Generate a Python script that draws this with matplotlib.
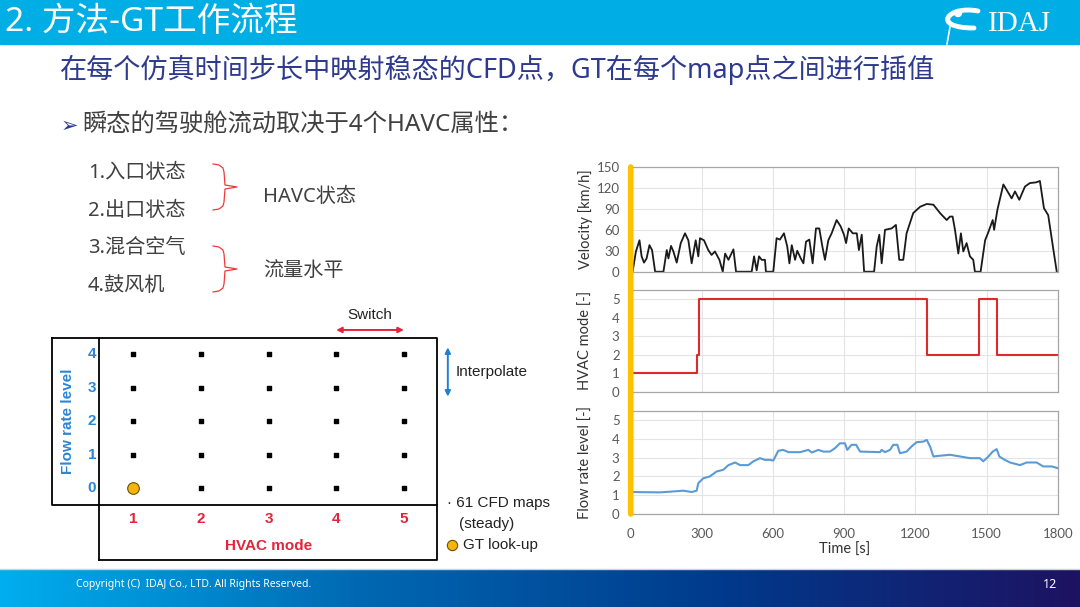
import numpy as np
import matplotlib.pyplot as plt
from matplotlib.patches import Rectangle, ConnectionPatch, Circle, PathPatch
from matplotlib.path import Path
from matplotlib.colors import LinearSegmentedColormap

plt.rcParams['font.family'] = ['Noto Sans', 'Noto Sans CJK SC', 'DejaVu Sans']

W, H = 1080, 607

# ---- data ----
vel_t = [0, 8, 22, 37, 46, 56, 67, 79, 90, 103, 138, 152, 159, 170, 180, 194, 211, 229, 243,
         257, 274, 285, 292, 309, 327, 341, 355, 374, 388, 398, 412, 433, 444, 510, 520, 531,
         541, 552, 566, 570, 601, 615, 629, 646, 660, 669, 679, 693, 702, 717, 728, 739, 753,
         767, 781, 795, 808, 819, 833, 847, 868, 885, 899, 908, 919, 936, 953, 962, 974, 984,
         1026, 1037, 1048, 1058, 1072, 1100, 1118, 1132, 1149, 1163, 1191, 1220, 1248, 1276,
         1304, 1332, 1346, 1357, 1367, 1381, 1392, 1402, 1416, 1430, 1444, 1451, 1475, 1494,
         1508, 1526, 1532, 1546, 1571, 1592, 1606, 1620, 1638, 1662, 1683, 1709, 1725, 1742,
         1760, 1782, 1796]
vel_v = [0, 0, 29, 45, 22, 13, 19, 38, 31, 0, 0, 31, 19, 37, 29, 13, 41, 55, 45,
         12, 45, 22, 48, 45, 31, 24, 29, 17, 0, 26, 17, 32, 0, 0, 22, 2,
         22, 17, 17, 0, 0, 48, 46, 55, 36, 12, 38, 17, 30, 19, 12, 43, 46,
         12, 62, 62, 36, 17, 45, 55, 74, 65, 53, 41, 62, 55, 55, 31, 53, 0,
         0, 36, 53, 12, 60, 62, 67, 17, 17, 55, 84, 93, 97, 96,
         84, 74, 79, 79, 60, 26, 55, 29, 41, 22, 17, 0, 0, 45,
         57, 74, 60, 89, 125, 113, 105, 115, 103, 122, 127, 128, 130, 91,
         81, 31, 0]

mode_t = [0, 281, 289, 1248, 1470, 1543, 1800]
mode_v = [1, 2, 5, 2, 5, 2, 2]

flow_t = [0, 124, 222, 257, 278, 285, 306, 334, 362, 390, 412, 440, 461, 496, 517, 545, 566,
          587, 601, 622, 643, 665, 714, 749, 763, 791, 812, 840, 861, 882, 903, 913, 931, 950,
          967, 1051, 1058, 1072, 1093, 1107, 1124, 1135, 1163, 1184, 1205, 1234, 1248, 1262,
          1276, 1297, 1346, 1388, 1430, 1472, 1486, 1508, 1526, 1543, 1554, 1571, 1599, 1641,
          1669, 1711, 1739, 1775, 1800]
flow_v = [1.17, 1.15, 1.24, 1.17, 1.24, 1.64, 1.9, 2.0, 2.26, 2.35, 2.6, 2.74, 2.6, 2.6, 2.8,
          2.97, 2.88, 2.88, 2.84, 3.36, 3.41, 3.29, 3.29, 3.41, 3.27, 3.41, 3.32, 3.32, 3.5,
          3.76, 3.76, 3.41, 3.68, 3.68, 3.32, 3.29, 3.41, 3.29, 3.41, 3.68, 3.68, 3.23, 3.32,
          3.59, 3.82, 3.85, 3.94, 3.59, 3.06, 3.09, 3.15, 3.06, 2.97, 2.97, 2.8, 3.06, 3.32,
          3.45, 3.06, 2.92, 2.74, 2.6, 2.74, 2.74, 2.53, 2.53, 2.44]

hvac_modes = [1, 2, 3, 4, 5]
flow_levels = [0, 1, 2, 3, 4]
lookup = (1, 0)

items = ['1.入口状态', '2.出口状态', '3.混合空气', '4.鼓风机']
groups = ['HAVC状态', '流量水平']

fig = plt.figure(figsize=(10.8, 6.07), dpi=100)
bg = fig.add_axes([0, 0, 1, 1])
bg.axis('off')


def px_axes(x0, y0, x1, y1):
    return fig.add_axes([x0 / W, 1 - y1 / H, (x1 - x0) / W, (y1 - y0) / H])


# footer gradient
cmap = LinearSegmentedColormap.from_list('foot', ['#00AEEF', '#0068B2', '#003A8C', '#1E1262'])
bg.imshow(np.linspace(0, 1, 256)[None, :], extent=[0, W, 607, 569], cmap=cmap, aspect='auto')
bg.set_xlim(0, W)
bg.set_ylim(H, 0)
bg.plot([0, W], [569, 569], color='#C9D3DC', lw=1)
bg.text(76, 585, 'Copyright (C)  IDAJ Co., LTD. All Rights Reserved.', color='white',
        fontsize=7.5, va='center')
bg.text(1050, 585, '12', color='white', fontsize=9, va='center', ha='center')

# header
bg.add_patch(Rectangle((0, 0), W, 44, color='#00AEE6'))
bg.text(5, 22, '2. 方法-GT工作流程', color='white', fontsize=24.2, va='center')
bg.text(1019, 24, 'IDAJ', color='white', fontsize=21, va='center', ha='center',
        family='Liberation Serif')
swoosh = Path([(978, 11), (948, 5), (930, 28), (974, 28)],
              [Path.MOVETO, Path.CURVE4, Path.CURVE4, Path.CURVE4])
bg.add_patch(PathPatch(swoosh, fc='none', ec='white', lw=3.5, capstyle='round'))
bg.add_patch(Circle((958, 13), 3.5, color='white'))
bg.plot([950, 947], [27, 44], color='white', lw=1.2)

bg.text(60, 70, '在每个仿真时间步长中映射稳态的CFD点，GT在每个map点之间进行插值',
        color='#2E3A8F', fontsize=19.5, va='center')
bg.text(61, 126, '➢', color='#2E3A8F', fontsize=15, va='center', family=['DejaVu Sans'])
bg.text(82, 126, '瞬态的驾驶舱流动取决于4个HAVC属性：', color='#404040', fontsize=17.5, va='center')

for i, s in enumerate(items):
    bg.text(88, 173 + i * 37.7, s, color='#404040', fontsize=14.5, va='center')
for i, s in enumerate(groups):
    bg.text(263, 197 + i * 74, s, color='#404040', fontsize=14.5, va='center')


def brace(y0, y1):
    ym = (y0 + y1) / 2
    xs = [213, 219, 223, 224, 225, 237, 225, 224, 223, 219, 213]
    ys = [y0, y0 + 1, y0 + 4, y0 + 8, ym - 2, ym, ym + 2, y1 - 8, y1 - 4, y1 - 1, y1]
    bg.plot(xs, ys, color='#F03A3A', lw=0.9)


brace(164, 210)
brace(246, 292)

# ---- CFD map diagram ----
dg = px_axes(52, 338, 437, 560)
dg.set_xlim(-0.2, 5.49)
dg.set_ylim(-2.15, 4.48)
dg.axis('off')
kw = dict(color='black', lw=1.3, clip_on=False)
dg.plot([-0.2, 5.49, 5.49, -0.2, -0.2], [4.48, 4.48, -0.5, -0.5, 4.48], **kw)
dg.plot([0.5, 0.5], [4.48, -2.15], **kw)
dg.plot([0.5, 5.49, 5.49], [-2.15, -2.15, -0.5], **kw)

mx, my = np.meshgrid(hvac_modes, flow_levels)
mask = ~((mx == lookup[0]) & (my == lookup[1]))
dg.scatter(mx[mask], my[mask], marker='s', s=5, color='black', zorder=3)
dg.scatter([lookup[0]], [lookup[1]], s=70, color='#F5B50E', edgecolor='#6B5200', lw=0.8, zorder=4)

af = ['Liberation Sans', 'DejaVu Sans']
for m in hvac_modes:
    dg.text(m, -0.93, str(m), color='#E3243B', fontsize=11, fontweight='bold',
            ha='center', va='center', family=af)
for lv in flow_levels:
    dg.text(0.39, lv, str(lv), color='#2A86D8', fontsize=11, fontweight='bold',
            ha='center', va='center', family=af)
dg.text(3, -1.74, 'HVAC mode', color='#E3243B', fontsize=11, fontweight='bold',
        ha='center', va='center', family=af)
dg.text(0.04, 2.0, 'Flow rate level', color='#2A86D8', fontsize=11, fontweight='bold',
        ha='center', va='center', rotation=90, family=af)

dg.annotate('', xy=(5, 4.72), xytext=(4, 4.72), annotation_clip=False,
            arrowprops=dict(arrowstyle='<|-|>', color='#E3243B', lw=1.4,
                            shrinkA=0, shrinkB=0, mutation_scale=8))
dg.text(4.5, 5.17, 'Switch', fontsize=11, ha='center', va='center', color='#222222', family=af)
dg.annotate('', xy=(5.65, 4.2), xytext=(5.65, 2.73), annotation_clip=False,
            arrowprops=dict(arrowstyle='<|-|>', color='#1F80D2', lw=1.4,
                            shrinkA=0, shrinkB=0, mutation_scale=8))
dg.text(5.76, 3.46, 'Interpolate', fontsize=11, ha='left', va='center', color='#222222', family=af)

bg.text(447, 503, '· 61 CFD maps', fontsize=11, va='center', color='#222222', family=af)
bg.text(459, 524, '(steady)', fontsize=11, va='center', color='#222222', family=af)
bg.scatter([452], [545], s=55, color='#F5B50E', edgecolor='#6B5200', lw=0.8)
bg.text(463, 545, 'GT look-up', fontsize=11, va='center', color='#222222', family=af)

# ---- time series ----
cf = ['Lato', 'DejaVu Sans']
ax1 = px_axes(630.7, 167, 1057.7, 271.7)
ax2 = px_axes(630.7, 289.7, 1057.7, 391.7)
ax3 = px_axes(630.7, 410.6, 1057.7, 514)


def style(ax, ymax, yticks, label):
    ax.set_xlim(0, 1800)
    ax.set_ylim(0, ymax)
    ax.set_xticks(range(0, 1801, 300))
    ax.set_yticks(yticks)
    ax.grid(color='#E4E4E4', lw=0.8)
    ax.set_axisbelow(True)
    for s in ax.spines.values():
        s.set_color('#A6A6A6')
        s.set_linewidth(0.9)
    ax.tick_params(length=0, labelsize=9.5, colors='#595959', pad=8)
    for t in ax.get_xticklabels() + ax.get_yticklabels():
        t.set_family(cf)
    ax.set_ylabel(label, fontsize=10.5, color='#333333', family=cf)
    ax.yaxis.set_label_coords(-0.088, 0.5)


style(ax1, 150, range(0, 151, 30), 'Velocity [km/h]')
style(ax2, 5.5, range(0, 6), 'HVAC mode [-]')
style(ax3, 5.5, range(0, 6), 'Flow rate level [-]')
ax1.tick_params(labelbottom=False)
ax2.tick_params(labelbottom=False)
ax3.tick_params(axis='x', pad=10)
ax3.set_xlabel('Time [s]', fontsize=10.5, color='#333333', family=cf, labelpad=2)

ax1.plot(vel_t, vel_v, color='#1A1A1A', lw=1.3, clip_on=False)
ax2.plot(mode_t, mode_v, drawstyle='steps-post', color='#E02A2A', lw=1.5)
ax3.plot(flow_t, flow_v, color='#5B9BD5', lw=1.5)

con = ConnectionPatch(xyA=(0, 150), coordsA=ax1.transData, xyB=(0, 0), coordsB=ax3.transData,
                      color='#FFC000', lw=4, zorder=10)
fig.add_artist(con)

fig.savefig('out.png', dpi=100)
